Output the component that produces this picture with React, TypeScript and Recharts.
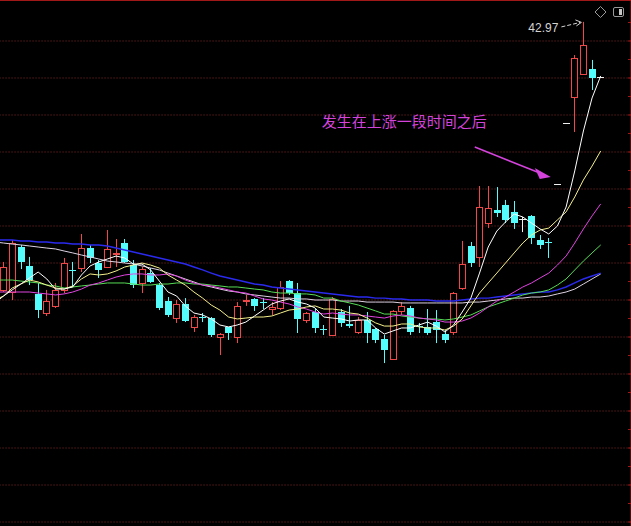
import React from 'react';
import {
  ComposedChart,
  Bar,
  Line,
  XAxis,
  YAxis,
  CartesianGrid,
  ReferenceLine,
  ReferenceDot,
} from 'recharts';

// ---- daily candles (70 sessions, oldest first) ----
const OPEN = [
  24.86, 24.72, 27.76, 26.48, 24.59, 23.3, 23.78, 24.86, 26.21, 26.34,
  27.69, 26.68, 26.41, 27.29, 28.03, 26.54, 25.33, 26.0, 25.19, 24.11,
  22.96, 23.91, 22.36, 23.03, 22.96, 21.68, 22.36, 21.68, 24.11, 24.25,
  24.04, 23.57, 23.64, 25.46, 24.65, 22.83, 23.37, 22.22, 21.82, 23.37,
  22.56, 22.02, 22.83, 22.22, 21.55, 20.19, 23.44, 23.64, 22.42, 22.36,
  22.69, 21.88, 22.02, 24.99, 27.83, 27.09, 29.38, 30.26, 30.6, 30.13,
  29.65, 29.85, 28.23, 28.1, 32.02, 36.14, 37.9, 39.45, 39.79, 39.25,
];
const HIGH = [
  26.75, 28.23, 27.9, 27.09, 25.33, 24.86, 25.33, 27.02, 26.75, 28.64,
  27.9, 26.88, 28.91, 28.3, 28.3, 26.88, 26.41, 26.34, 25.33, 24.38,
  24.18, 24.31, 23.17, 23.3, 23.03, 21.95, 22.36, 24.04, 24.52, 24.31,
  24.31, 24.04, 25.46, 25.53, 25.33, 23.37, 23.57, 22.49, 24.38, 23.57,
  23.78, 23.03, 23.37, 22.29, 21.82, 23.5, 24.04, 23.78, 22.63, 23.57,
  23.5, 22.15, 24.72, 28.17, 28.1, 31.88, 31.88, 31.81, 30.94, 30.87,
  29.79, 29.92, 28.57, 28.37, 32.02, 36.14, 40.73, 42.97, 40.4, 39.25,
];
const LOW = [
  24.72, 24.18, 26.27, 25.19, 22.96, 23.1, 23.64, 24.65, 25.06, 26.07,
  26.68, 25.67, 26.34, 26.41, 26.68, 24.99, 24.65, 25.33, 23.5, 23.03,
  22.63, 22.69, 22.02, 22.69, 21.68, 20.46, 21.48, 21.27, 23.78, 23.44,
  23.57, 23.17, 23.5, 24.52, 21.95, 22.63, 21.95, 21.82, 21.75, 22.36,
  22.29, 21.88, 21.27, 21.27, 19.92, 20.13, 23.17, 21.82, 21.95, 21.82,
  21.27, 21.27, 21.82, 24.86, 26.41, 26.41, 29.04, 29.79, 29.38, 28.98,
  28.77, 27.96, 27.63, 27.02, 32.02, 36.14, 35.53, 39.45, 38.37, 39.25,
];
const CLOSE = [
  26.41, 28.03, 26.75, 25.53, 23.5, 24.11, 24.86, 26.68, 26.14, 27.69,
  27.02, 26.21, 27.63, 27.36, 26.75, 25.19, 26.27, 25.4, 23.64, 23.17,
  23.91, 22.76, 23.03, 22.96, 21.82, 21.88, 21.95, 23.78, 24.18, 23.78,
  23.98, 23.71, 25.06, 24.65, 22.9, 23.3, 22.29, 22.15, 24.25, 22.63,
  22.42, 22.83, 21.95, 21.48, 20.8, 23.44, 23.78, 22.02, 22.36, 21.95,
  22.15, 21.48, 24.65, 26.61, 26.68, 30.46, 30.4, 30.06, 29.59, 29.38,
  29.65, 28.37, 27.9, 28.03, 32.02, 36.14, 40.53, 41.41, 39.18, 39.25,
];

// ---- moving averages: first value belongs to the session just before the window ----
const MA5 = [
  23.98,
  24.45, 24.86, 25.26, 25.67, 26.07, 25.6, 24.92, 24.92, 25.06, 25.87,
  26.48, 26.75, 26.95, 27.15, 27.02, 26.61, 26.61, 26.21, 25.46, 24.72,
  24.45, 23.78, 23.3, 23.17, 22.9, 22.49, 22.36, 22.49, 22.69, 23.1,
  23.5, 23.91, 24.11, 24.25, 24.04, 23.91, 23.64, 23.03, 22.96, 22.9,
  22.76, 22.83, 22.83, 22.29, 21.88, 22.09, 22.29, 22.29, 22.49, 22.69,
  22.42, 22.02, 22.49, 23.37, 24.31, 26.0, 27.76, 28.84, 29.45, 29.99,
  29.79, 29.38, 28.98, 28.64, 29.18, 30.46, 32.9, 35.6, 37.83, 39.32,
];
const MA10 = [
  24.18,
  24.45, 24.99, 25.26, 25.53, 25.4, 25.19, 24.99, 24.92, 25.13, 25.6,
  25.94, 25.87, 25.94, 26.14, 26.41, 26.54, 26.68, 26.54, 26.34, 25.87,
  25.53, 25.19, 24.72, 24.31, 23.84, 23.5, 23.03, 22.9, 22.96, 23.03,
  23.03, 23.1, 23.3, 23.5, 23.57, 23.71, 23.78, 23.57, 23.57, 23.5,
  23.3, 23.23, 22.96, 22.63, 22.42, 22.42, 22.56, 22.56, 22.36, 22.29,
  22.29, 22.15, 22.42, 22.9, 23.78, 24.65, 25.33, 26.0, 26.68, 27.36,
  28.03, 28.57, 28.91, 29.04, 29.59, 30.13, 31.14, 32.29, 33.23, 34.25,
];
const MA20 = [
  24.72,
  24.72, 24.72, 24.72, 24.72, 24.65, 24.59, 24.52, 24.59, 24.72, 24.92,
  25.19, 25.33, 25.53, 25.73, 25.87, 25.94, 25.94, 25.87, 25.87, 25.94,
  25.8, 25.53, 25.33, 25.19, 25.13, 24.99, 24.86, 24.72, 24.65, 24.45,
  24.25, 24.18, 24.04, 23.91, 23.71, 23.57, 23.37, 23.23, 23.3, 23.23,
  23.17, 23.17, 23.1, 23.03, 22.96, 23.1, 23.17, 23.1, 22.96, 22.9,
  22.83, 22.69, 22.69, 22.76, 22.96, 23.3, 23.71, 24.11, 24.38, 24.72,
  25.06, 25.33, 25.67, 26.0, 26.54, 27.15, 28.03, 28.98, 29.86, 30.67,
];
const MA30 = [
  25.53,
  25.53, 25.53, 25.46, 25.4, 25.33, 25.19, 25.13, 24.99, 25.06, 25.13,
  25.19, 25.26, 25.33, 25.33, 25.33, 25.26, 25.19, 25.19, 25.26, 25.26,
  25.33, 25.33, 25.26, 25.26, 25.19, 25.13, 25.06, 25.06, 24.99, 24.92,
  24.86, 24.72, 24.65, 24.65, 24.59, 24.59, 24.52, 24.31, 24.31, 24.11,
  23.98, 23.84, 23.64, 23.44, 23.23, 23.23, 23.1, 23.03, 22.96, 22.9,
  22.9, 22.83, 22.9, 23.03, 23.17, 23.44, 23.71, 23.91, 24.11, 24.31,
  24.52, 24.65, 24.72, 24.86, 25.19, 25.6, 26.21, 26.81, 27.36, 27.9,
];
const MA60 = [
  28.23,
  28.23, 28.23, 28.17, 28.17, 28.1, 28.1, 28.03, 28.03, 27.96, 27.96,
  27.9, 27.9, 27.83, 27.69, 27.56, 27.42, 27.29, 27.15, 27.02, 26.88,
  26.75, 26.61, 26.41, 26.21, 26.0, 25.8, 25.67, 25.53, 25.4, 25.26,
  25.19, 25.06, 24.99, 24.92, 24.86, 24.79, 24.72, 24.65, 24.59, 24.52,
  24.45, 24.38, 24.38, 24.31, 24.31, 24.25, 24.25, 24.18, 24.18, 24.18,
  24.11, 24.11, 24.11, 24.18, 24.25, 24.31, 24.31, 24.38, 24.45, 24.52,
  24.59, 24.65, 24.72, 24.72, 24.86, 25.06, 25.33, 25.6, 25.8, 26.0,
];
const MA120 = [
  28.1,
  28.03, 27.96, 27.9, 27.83, 27.76, 27.69, 27.63, 27.49, 27.36, 27.22,
  27.09, 26.95, 26.81, 26.75, 26.68, 26.61, 26.48, 26.34, 26.21, 26.0,
  25.8, 25.6, 25.4, 25.19, 25.06, 24.92, 24.79, 24.72, 24.59, 24.52,
  24.45, 24.38, 24.31, 24.31, 24.25, 24.25, 24.18, 24.18, 24.18, 24.11,
  24.11, 24.11, 24.04, 24.04, 24.04, 24.04, 23.98, 23.98, 23.98, 23.98,
  23.98, 23.98, 23.98, 23.98, 24.04, 24.04, 24.11, 24.18, 24.25, 24.31,
  24.31, 24.38, 24.38, 24.45, 24.59, 24.72, 24.92, 25.26, 25.6, 25.94,
];

const PEAK_VALUE = 42.97;
const PEAK_LABEL = '42.97';
const NOTE_TEXT = '发生在上涨一段时间之后';
const NOTE_PRICE = 36.34;
const ARROW_PRICE = 32.42;
const NOTE_SLOT = 38;
const ARROW_SLOT = 64;
const PEAK_SLOT = 68;
const Y_DOMAIN: [number, number] = [8.91, 44.45];
const GRID_TICKS = [41.68, 39.18, 36.68, 34.18, 31.68, 29.18, 26.68, 24.18, 21.68, 19.18, 16.68, 14.18, 11.68, 9.18];
const BORDER_TICKS = [
  42.93, 41.68, 40.43, 39.18, 37.93, 36.68, 35.43, 34.18, 32.93, 31.68, 30.43, 29.18, 27.93, 26.68,
  25.43, 24.18, 22.93, 21.68, 20.43, 19.18, 17.93, 16.68, 15.43, 14.18, 12.93, 11.68, 10.43, 9.18,
];
const TRAILING_SLOTS = 3;

const RED = '#f04848';
const CYAN = '#54fcfc';
const BORDER = '#a01818';
const GRID = '#8a2828';
const NOTE_COLOR = '#d443dc';

type Row = {
  k: number;
  open?: number;
  high?: number;
  low?: number;
  close?: number;
  ma5?: number;
  ma10?: number;
  ma20?: number;
  ma30?: number;
  ma60?: number;
  ma120?: number;
};

const rows: Row[] = [];
rows.push({ k: 0, ma5: MA5[0], ma10: MA10[0], ma20: MA20[0], ma30: MA30[0], ma60: MA60[0], ma120: MA120[0] });
for (let i = 0; i < OPEN.length; i++) {
  rows.push({
    k: i + 1,
    open: OPEN[i],
    high: HIGH[i],
    low: LOW[i],
    close: CLOSE[i],
    ma5: MA5[i + 1],
    ma10: MA10[i + 1],
    ma20: MA20[i + 1],
    ma30: MA30[i + 1],
    ma60: MA60[i + 1],
    ma120: MA120[i + 1],
  });
}
for (let t = 0; t < TRAILING_SLOTS; t++) rows.push({ k: OPEN.length + 1 + t });

function CandleShape(props: any) {
  const { x, y, width, height, payload } = props;
  if (!payload || payload.high == null || x == null || y == null) return <g />;
  const { open, close, high, low } = payload as Required<Row>;
  const cx = Math.floor(x + width / 2) + 0.5;
  const span = high - low;
  const h = height || 0;
  const py = (v: number) => (span > 0 ? y + ((high - v) / span) * h : y);
  const yHigh = py(high);
  const yLow = py(low);
  const yO = py(open);
  const yC = py(close);
  const top = Math.min(yO, yC);
  const bot = Math.max(yO, yC);
  if (close > open) {
    const t = Math.round(top) + 0.5;
    const b = Math.max(Math.round(bot) + 0.5, t + 1);
    return (
      <g>
        <line x1={cx} x2={cx} y1={yHigh} y2={t} stroke={RED} strokeWidth={1} />
        <line x1={cx} x2={cx} y1={b} y2={yLow} stroke={RED} strokeWidth={1} />
        <rect x={cx - 3} y={t} width={6} height={b - t} fill="#000" stroke={RED} strokeWidth={1} />
      </g>
    );
  }
  if (close < open) {
    const t = Math.round(top);
    const b = Math.max(Math.round(bot), t + 1);
    return (
      <g>
        <line x1={cx} x2={cx} y1={yHigh} y2={yLow} stroke={CYAN} strokeWidth={1} />
        <rect x={cx - 3.5} y={t} width={7} height={b - t} fill={CYAN} />
      </g>
    );
  }
  const m = Math.round(yO) + 0.5;
  return (
    <g>
      {span > 0 && <line x1={cx} x2={cx} y1={yHigh} y2={yLow} stroke="#f0f0f0" strokeWidth={1} />}
      <line x1={cx - 3.5} x2={cx + 3.5} y1={m} y2={m} stroke="#f0f0f0" strokeWidth={1} />
    </g>
  );
}

const PeakLabel = (p: any) => {
  const { cx, cy } = p;
  return (
    <g>
      <text
        x={cx - 25}
        y={cy + 10}
        textAnchor="end"
        fill="#d4d4d4"
        fontSize={12}
        fontFamily="'Liberation Sans', Arial, sans-serif"
      >
        {PEAK_LABEL}
      </text>
      <line x1={cx - 22} y1={cy + 5} x2={cx - 3} y2={cy + 0.5} stroke="#d4d4d4" strokeWidth={1} strokeDasharray="4 2" />
      <polyline
        points={`${cx - 8},${cy - 2} ${cx - 2},${cy + 0.5} ${cx - 7},${cy + 4}`}
        fill="none"
        stroke="#d4d4d4"
        strokeWidth={1}
      />
    </g>
  );
};

const NoteText = (p: any) => {
  const { cx, cy } = p;
  return (
    <text
      x={cx - 2}
      y={cy + 7}
      fill={NOTE_COLOR}
      fontSize={15}
      fontFamily="'Noto Sans CJK SC', sans-serif"
    >
      {NOTE_TEXT}
    </text>
  );
};

const NoteArrow = (p: any) => {
  const { cx, cy } = p;
  return (
    <g>
      <line x1={cx - 74} y1={cy - 31} x2={cx - 9} y2={cy - 5} stroke={NOTE_COLOR} strokeWidth={1.5} />
      <polygon
        points={`${cx + 2},${cy - 1} ${cx - 14},${cy - 10} ${cx - 9},${cy + 1}`}
        fill={NOTE_COLOR}
      />
    </g>
  );
};

const lineCommon = {
  dot: false,
  activeDot: false,
  isAnimationActive: false,
  strokeWidth: 1,
} as const;

export default function App() {
  return (
    <div
      style={{
        position: 'absolute',
        left: 0,
        top: 0,
        width: 631,
        height: 526,
        background: '#000',
        overflow: 'hidden',
        pointerEvents: 'none',
      }}
    >
      <ComposedChart
        width={631}
        height={526}
        data={rows}
        margin={{ top: 0, right: 0, bottom: 0, left: -9.45 }}
        style={{ background: '#000' }}
      >
        <CartesianGrid
          vertical={false}
          stroke={GRID}
          strokeDasharray="1 2"
          horizontalValues={GRID_TICKS}
        />
        <XAxis dataKey="k" type="category" hide />
        <YAxis type="number" domain={Y_DOMAIN} ticks={GRID_TICKS} allowDataOverflow hide />
        <YAxis
          yAxisId="r"
          orientation="right"
          type="number"
          width={3}
          domain={Y_DOMAIN}
          ticks={BORDER_TICKS}
          allowDataOverflow
          mirror
          tickSize={3}
          axisLine={{ stroke: BORDER }}
          tickLine={{ stroke: BORDER }}
          tickFormatter={() => ''}
        />
        <ReferenceLine y={Y_DOMAIN[1]} stroke={BORDER} strokeWidth={2} />
        <Line dataKey="ma120" stroke="#ddd2e2" {...lineCommon} />
        <Line dataKey="ma60" stroke="#2a2aee" {...lineCommon} strokeWidth={1.4} />
        <Bar
          dataKey={(r: Row) => (r.high == null ? null : [r.low, r.high])}
          barSize={7}
          shape={<CandleShape />}
          activeBar={false}
          isAnimationActive={false}
        />
        <Line dataKey="ma30" stroke="#56dc56" {...lineCommon} />
        <Line dataKey="ma20" stroke="#e244e2" {...lineCommon} />
        <Line dataKey="ma10" stroke="#f4f08a" {...lineCommon} />
        <Line dataKey="ma5" stroke="#ffffff" {...lineCommon} />
        <ReferenceDot x={PEAK_SLOT} y={PEAK_VALUE} r={0} shape={<PeakLabel />} />
        <ReferenceDot x={NOTE_SLOT} y={NOTE_PRICE} r={0} shape={<NoteText />} />
        <ReferenceDot x={ARROW_SLOT} y={ARROW_PRICE} r={0} shape={<NoteArrow />} />
      </ComposedChart>
      <svg
        width={41}
        height={22}
        style={{ position: 'absolute', left: 590, top: 0, pointerEvents: 'none' }}
      >
        <polygon points="5,12 10.5,6.5 16,12 10.5,17.5" fill="none" stroke="#9a9a9a" strokeWidth={1} />
        <rect x={23.5} y={7.5} width={10} height={9} rx={1.5} fill="none" stroke="#9a9a9a" strokeWidth={1} />
        <rect x={29} y={9} width={3} height={6} fill="#c8c8c8" />
      </svg>
    </div>
  );
}
